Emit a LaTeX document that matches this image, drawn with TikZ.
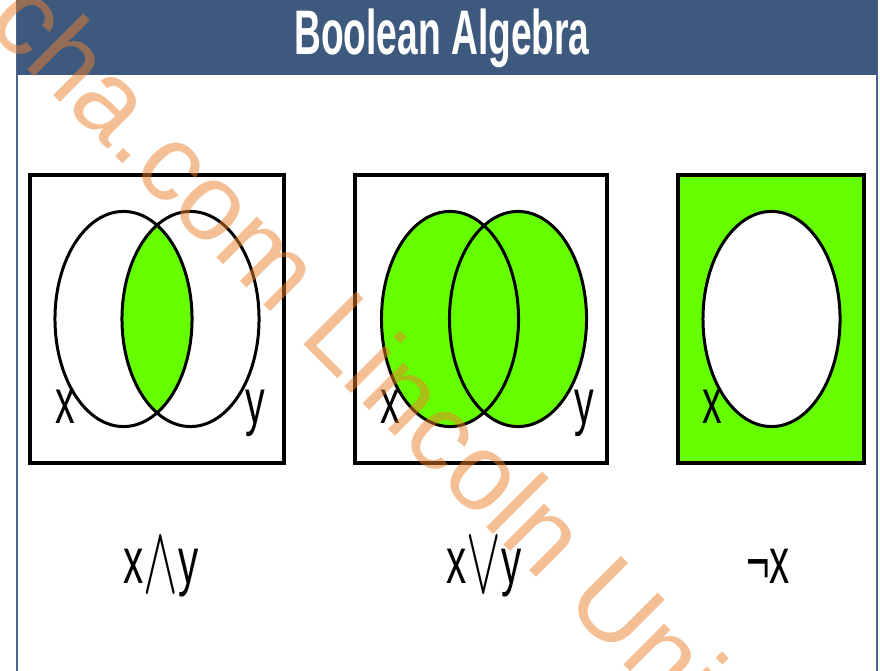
\documentclass[tikz,border=0pt]{standalone}
\usepackage{fontspec}
\setmainfont{Liberation Sans}
\newfontfamily\titlefont[FakeStretch=0.59]{Liberation Sans}
\newfontfamily\narrowfont[FakeStretch=0.62]{Liberation Sans}
\newfontfamily\markfont{Liberation Sans}
\usepackage{xcolor}
\usepackage{graphicx}
\usetikzlibrary{positioning}

\definecolor{headblue}{RGB}{62,89,126}
\definecolor{frameblue}{RGB}{74,102,140}
\definecolor{setgreen}{RGB}{102,255,0}
\definecolor{markorange}{RGB}{236,128,45}
\newcommand{\tallop}[1]{\raisebox{-2.8pt}{\scalebox{0.85}[1.6]{$#1$}}}

\begin{document}
\begin{tikzpicture}[x=0.01cm, y=0.01cm,
    panel/.style={draw, line width=0.04cm, minimum height=2.88cm, inner sep=0pt},
    venn/.style={x radius=0.685cm, y radius=1.075cm},
    setline/.style={draw, line width=0.03cm},
    setname/.style={anchor=base, font=\narrowfont\fontsize{18}{18}\selectfont},
    expr/.style={anchor=base, font=\narrowfont\fontsize{18.5}{18.5}\selectfont},
    headtext/.style={text=white, font=\titlefont\bfseries\fontsize{17.9}{18}\selectfont},
    watermark/.style={rotate=-45, text=markorange, opacity=0.5,
        font=\markfont\fontsize{31}{31}\selectfont},
]
    \useasboundingbox (0,0) rectangle (880,670);

    % Page frame and header bar
    \draw[frameblue, line width=0.02cm] (17,-5) rectangle (877,670);
    \fill[headblue] (17,595) rectangle (877,670);
    \node[headtext] (head) at (442,632) {Boolean Algebra};

    % Panels
    \node[panel, minimum width=2.54cm] (andbox) at (157,351) {};
    \node[panel, minimum width=2.52cm] (orbox) at (481,351) {};
    \node[panel, minimum width=1.86cm, fill=setgreen] (notbox) at (771,351) {};

    % x and y
    \begin{scope}
        \clip (123.5,351) ellipse [venn];
        \fill[setgreen] (190.5,351) ellipse [venn];
    \end{scope}
    \draw[setline] (123.5,351) ellipse [venn] (190.5,351) ellipse [venn];

    % x or y
    \fill[setgreen] (450,351) ellipse [venn] (518,351) ellipse [venn];
    \draw[setline] (450,351) ellipse [venn] (518,351) ellipse [venn];

    % not x
    \filldraw[setline, fill=white] (771.5,351) ellipse [venn];

    % Set names
    \node[setname] (andx) at (65,247) {x};
    \node[setname] (andy) at (255,247) {y};
    \node[setname] (orx) at (390,247) {x};
    \node[setname] (ory) at (584,247) {y};
    \node[setname] (notx) at (712,247) {x};

    % Expressions
    \node[expr] (andexpr) at (161,87) {x\tallop{\wedge}y};
    \node[expr] (orexpr) at (484,87) {x\tallop{\vee}y};
    \node[expr] (notexpr) at (768,87) {¬x};

    % Watermark
    \node[watermark] (mark) at (359,325) {cha.com Lincoln Uni};
\end{tikzpicture}
\end{document}
